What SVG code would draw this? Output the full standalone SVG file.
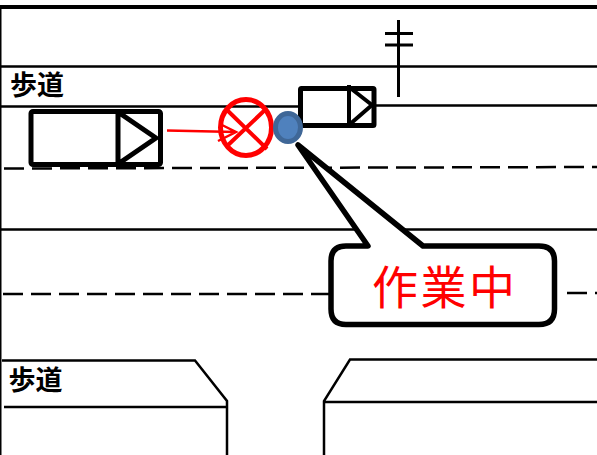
<svg xmlns="http://www.w3.org/2000/svg" width="597" height="455" viewBox="0 0 597 455">
<style>
.l{fill:none;stroke:#000;stroke-width:2.5}
.d{fill:none;stroke:#000;stroke-width:2.5;stroke-dasharray:20 8}
.t{fill:none;stroke:#000;stroke-linejoin:round}
.r{fill:none;stroke:#f00}
.s{font-family:"Noto Sans CJK JP",sans-serif;font-weight:700;font-size:27px;fill:#000}
</style>
<rect width="597" height="455" fill="#fff"/>
<g id="road">
<path class="l" d="M0 7H597" style="stroke-width:4"/>
<path class="l" d="M0.500 7V455" style="stroke-width:2"/>
<path class="l" d="M1 66.500H597M1 106.500H300M374 105.500H597M1 229.500H597"/>
<path class="d" d="M4 168.500L597 167"/>
<path class="d" d="M3 294H330M567 293H597"/>
<path class="l" d="M2 360.500H195L227 401V455M4 407H227"/>
<path class="l" d="M324 455V401L350 359.500H597M324 402H597"/>
</g>
<g id="pole">
<path class="l" d="M398.500 20V97M385 33.500H413M385 45H413" style="stroke-width:3"/>
</g>
<g id="truck-large">
<rect class="t" x="31" y="111.500" width="129.500" height="53" rx="2" stroke-width="5"/>
<path class="t" stroke-width="5" d="M118 110V165M118 112L156 138L118 164"/>
</g>
<g id="truck-small">
<rect class="t" x="300.500" y="88.500" width="73.500" height="37" rx="1" stroke-width="5"/>
<path class="t" stroke-width="4" d="M349 85V125M349 87L372 105L349 125"/>
</g>
<g id="stop-mark">
<ellipse class="r" cx="246" cy="127.500" rx="25.500" ry="28" stroke-width="5"/>
<path class="r" stroke-width="4" d="M227 110L267 149M267 108L226 147"/>
</g>
<g id="connectors">
<path class="r" stroke-width="2.500" d="M167 130.500L236 132M222 125L236 132L218 141"/>
</g>
<g id="worker">
<ellipse cx="288" cy="127.500" rx="12.500" ry="14" fill="#4f81bd" stroke="#3f6797" stroke-width="5"/>
</g>
<g id="callout">
<path d="M298 145L368 246H346Q331 246 331 261V309Q331 324.500 346 324.500H539Q554.500 324.500 554.500 309V261Q554.500 246 539 246H423Z" fill="#fff" stroke="#000" stroke-width="5.500" stroke-linejoin="round"/>
<text x="372" y="304" letter-spacing="2.500" font-family="'Noto Sans CJK JP',sans-serif" font-size="46" fill="#f00">作業中</text>
</g>
<g id="labels">
<text class="s" x="10" y="95">歩道</text>
<text class="s" x="8.500" y="390">歩道</text>
</g>
</svg>
